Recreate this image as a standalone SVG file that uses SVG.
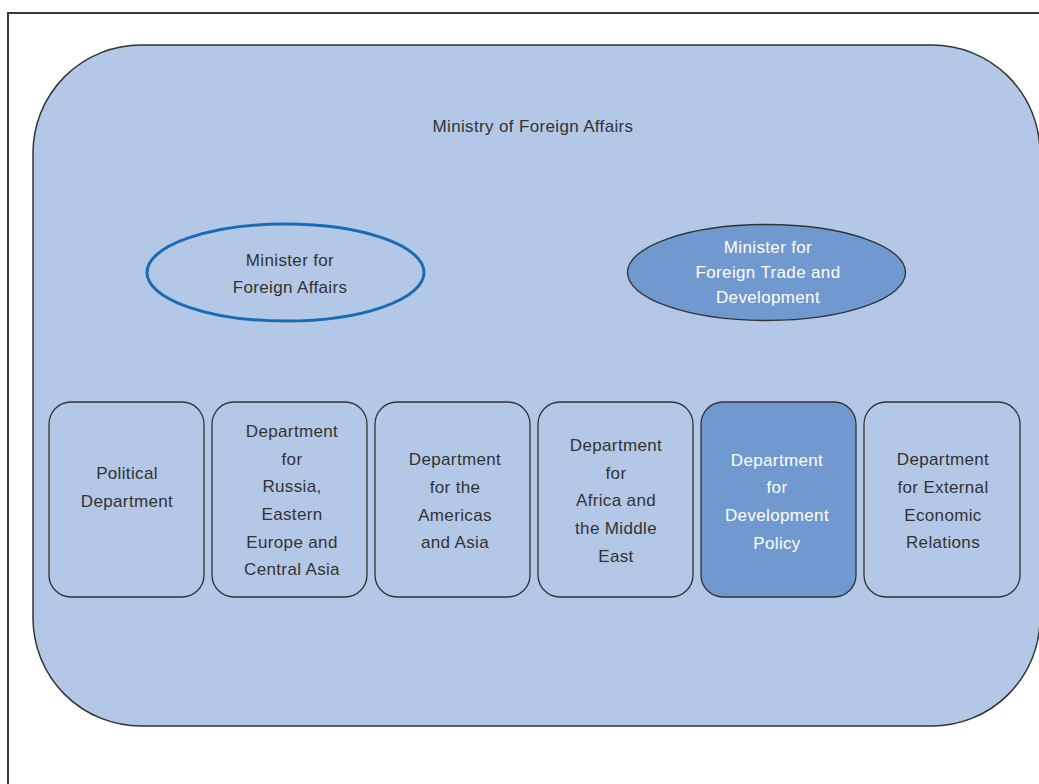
<svg xmlns="http://www.w3.org/2000/svg" width="1039" height="784" viewBox="0 0 1039 784">
  <style>
    .lbl { font-family: "Liberation Sans", Arial, sans-serif; font-size: 17px; letter-spacing: 0.35px; fill: #333333; text-anchor: middle; }
    .inv { fill: #ffffff; }
    .dept { fill: #b3c7e6; stroke: #333333; stroke-width: 1.3; }
    .dept.hi { fill: #7099d0; }
  </style>
  <rect x="0" y="0" width="1039" height="784" fill="#ffffff"/>
  <!-- page frame -->
  <rect x="8" y="13" width="1100" height="820" fill="none" stroke="#3a3a3a" stroke-width="2"/>

  <!-- ministry container -->
  <g id="ministry">
    <rect x="33" y="45" width="1007" height="681" rx="108" ry="108" fill="#b3c7e6" stroke="#333333" stroke-width="1.5"/>
    <text class="lbl" x="533" y="132">Ministry of Foreign Affairs</text>
  </g>

  <g id="minister-foreign-affairs">
    <ellipse cx="285.5" cy="272.5" rx="138.5" ry="48.5" fill="none" stroke="#1a6bb5" stroke-width="3"/>
    <text class="lbl" x="290" y="266">Minister for</text>
    <text class="lbl" x="290" y="293">Foreign Affairs</text>
  </g>

  <g id="minister-trade-development">
    <ellipse cx="766.5" cy="272.5" rx="139" ry="48" fill="#7099d0" stroke="#333333" stroke-width="1.3"/>
    <text class="lbl inv" x="768" y="253">Minister for</text>
    <text class="lbl inv" x="768" y="278">Foreign Trade and</text>
    <text class="lbl inv" x="768" y="303">Development</text>
  </g>

  <g id="dept-political">
    <rect class="dept" x="49" y="402" width="155" height="195" rx="22"/>
    <text class="lbl" x="127" y="479">Political</text>
    <text class="lbl" x="127" y="507">Department</text>
  </g>

  <g id="dept-russia">
    <rect class="dept" x="212" y="402" width="155" height="195" rx="22"/>
    <text class="lbl" x="292" y="437">Department</text>
    <text class="lbl" x="292" y="465">for</text>
    <text class="lbl" x="292" y="492">Russia,</text>
    <text class="lbl" x="292" y="520">Eastern</text>
    <text class="lbl" x="292" y="548">Europe and</text>
    <text class="lbl" x="292" y="575">Central Asia</text>
  </g>

  <g id="dept-americas">
    <rect class="dept" x="375" y="402" width="155" height="195" rx="22"/>
    <text class="lbl" x="455" y="465">Department</text>
    <text class="lbl" x="455" y="493">for the</text>
    <text class="lbl" x="455" y="521">Americas</text>
    <text class="lbl" x="455" y="548">and Asia</text>
  </g>

  <g id="dept-africa">
    <rect class="dept" x="538" y="402" width="155" height="195" rx="22"/>
    <text class="lbl" x="616" y="451">Department</text>
    <text class="lbl" x="616" y="479">for</text>
    <text class="lbl" x="616" y="506">Africa and</text>
    <text class="lbl" x="616" y="534">the Middle</text>
    <text class="lbl" x="616" y="562">East</text>
  </g>

  <g id="dept-development">
    <rect class="dept hi" x="701" y="402" width="155" height="195" rx="22"/>
    <text class="lbl inv" x="777" y="466">Department</text>
    <text class="lbl inv" x="777" y="493">for</text>
    <text class="lbl inv" x="777" y="521">Development</text>
    <text class="lbl inv" x="777" y="549">Policy</text>
  </g>

  <g id="dept-external-economic">
    <rect class="dept" x="864" y="402" width="156" height="195" rx="22"/>
    <text class="lbl" x="943" y="465">Department</text>
    <text class="lbl" x="943" y="493">for External</text>
    <text class="lbl" x="943" y="521">Economic</text>
    <text class="lbl" x="943" y="548">Relations</text>
  </g>

  <!-- no connectors are drawn between these nodes -->
  <g id="connectors"/>
</svg>
